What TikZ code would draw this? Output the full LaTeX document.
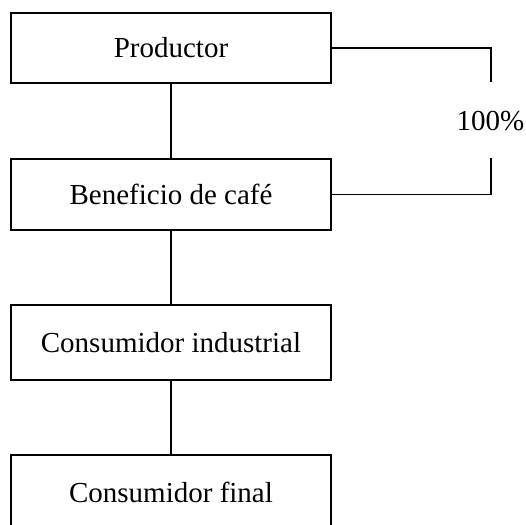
\documentclass[tikz,border=0pt]{standalone}
\usepackage{fontspec}
\setmainfont{Liberation Serif}
\begin{document}
\begin{tikzpicture}[x=1pt,y=1pt,
  flowbox/.style={draw=black, line width=1.7pt, minimum width=320pt, inner sep=0pt, font=\fontsize{29}{34}\selectfont},
  conn/.style={draw=black, line width=1.7pt}]
\useasboundingbox (0,0) rectangle (526,-524);
\node[flowbox, minimum height=70pt] (b1) at (171,-48) {Productor};
\node[flowbox, minimum height=71pt] (b2) at (171,-194.5) {Beneficio de café};
\node[flowbox, minimum height=75pt] (b3) at (171,-342.5) {Consumidor industrial};
\node[flowbox, minimum height=75pt] (b4) at (171,-492.5) {Consumidor final};
\node[font=\fontsize{29}{34}\selectfont, inner sep=0pt] (pct) at (490.5,-121) {100\%};
\coordinate (t1) at (491,-82);
\coordinate (t2) at (491,-158);
\draw[conn] (b1.south) -- (b2.north);
\draw[conn] (b2.south) -- (b3.north);
\draw[conn] (b3.south) -- (b4.north);
\draw[conn] (b1.east) -| (t1);
\draw[conn] (b2.east) -| (t2);
\end{tikzpicture}
\end{document}
